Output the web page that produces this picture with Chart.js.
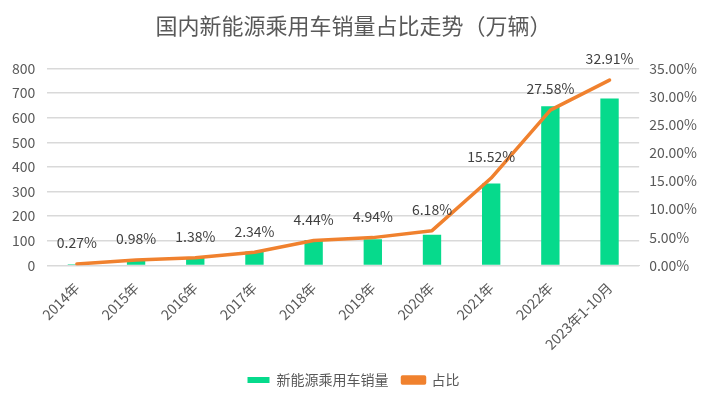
<!DOCTYPE html>
<html>
<head>
    <meta charset="utf-8">
    <title>国内新能源乘用车销量占比走势</title>
    <script src="https://cdn.jsdelivr.net/npm/chart.js@4.4.0/dist/chart.umd.min.js"></script>
    <style>
        html, body { margin: 0; padding: 0; background: #fff; }
        #wrap { width: 707px; height: 397px; }
    </style>
</head>
<body>
    <div id="wrap"><canvas id="myChart"></canvas></div>
    <script>
        // categories
        const years = ['2014年', '2015年', '2016年', '2017年', '2018年', '2019年', '2020年', '2021年', '2022年', '2023年1-10月'];
        // 销量 (万辆)
        const sales = [5, 19, 31, 57, 103, 106, 125, 333, 646, 678];
        // 占比 (%)
        const share = [0.27, 0.98, 1.38, 2.34, 4.44, 4.94, 6.18, 15.52, 27.58, 32.91];

        const green = '#06DA8C';
        const orange = '#F0812E';
        const txt = '#595959';
        const fam = '"Noto Sans CJK SC", "Microsoft YaHei", sans-serif';

        // draw the % labels over the line
        const lineLabels = {
            id: 'lineLabels',
            afterDatasetsDraw(chart) {
                const meta = chart.getDatasetMeta(1);
                const ctx = chart.ctx;
                ctx.save();
                ctx.font = '14px ' + fam;
                ctx.fillStyle = '#404040';
                ctx.textAlign = 'center';
                ctx.textBaseline = 'middle';
                meta.data.forEach(function (pt, i) {
                    ctx.fillText(share[i].toFixed(2) + '%', pt.x, pt.y - 21);
                });
                ctx.restore();
            }
        };

        const config = {
            data: {
                labels: years,
                datasets: [
                    {
                        type: 'bar',
                        label: '新能源乘用车销量',
                        data: sales,
                        backgroundColor: green,
                        yAxisID: 'y',
                        categoryPercentage: 1,
                        barPercentage: 0.31,
                        order: 2
                    },
                    {
                        type: 'line',
                        label: '占比',
                        data: share,
                        borderColor: orange,
                        backgroundColor: orange,
                        borderWidth: 3.5,
                        pointRadius: 0,
                        borderCapStyle: 'round',
                        borderJoinStyle: 'round',
                        tension: 0,
                        yAxisID: 'y1',
                        order: 1
                    }
                ]
            },
            options: {
                responsive: true,
                maintainAspectRatio: false,
                animation: false,
                layout: { padding: { left: 0, right: 0, top: 8, bottom: 0 } },
                plugins: {
                    title: {
                        display: true,
                        text: '国内新能源乘用车销量占比走势（万辆）',
                        color: txt,
                        font: { family: fam, size: 22, weight: 'normal' },
                        padding: { top: 4, bottom: 30 }
                    },
                    legend: {
                        position: 'bottom',
                        labels: {
                            color: txt,
                            font: { family: fam, size: 14 },
                            boxWidth: 22,
                            boxHeight: 6,
                            padding: 14,
                            sort: function (a, b) { return a.datasetIndex - b.datasetIndex; }
                        }
                    },
                    tooltip: { enabled: false }
                },
                scales: {
                    x: {
                        grid: { display: false },
                        border: { color: '#D9D9D9' },
                        ticks: {
                            color: txt,
                            font: { family: fam, size: 14 },
                            minRotation: 45,
                            maxRotation: 45,
                            autoSkip: false,
                            padding: 6
                        }
                    },
                    y: {
                        position: 'left',
                        min: 0,
                        max: 800,
                        grid: { color: '#D9D9D9', drawTicks: false, lineWidth: 1.5 },
                        border: { display: false },
                        ticks: {
                            stepSize: 100,
                            color: txt,
                            font: { family: fam, size: 14 },
                            padding: 12
                        }
                    },
                    y1: {
                        position: 'right',
                        min: 0,
                        max: 35,
                        grid: { display: false, drawTicks: false },
                        border: { display: false },
                        ticks: {
                            stepSize: 5,
                            color: txt,
                            font: { family: fam, size: 14 },
                            padding: 10,
                            callback: function (v) { return v.toFixed(2) + '%'; }
                        }
                    }
                }
            },
            plugins: [lineLabels]
        };

        const myChart = new Chart(document.getElementById('myChart'), config);
    </script>
</body>
</html>
